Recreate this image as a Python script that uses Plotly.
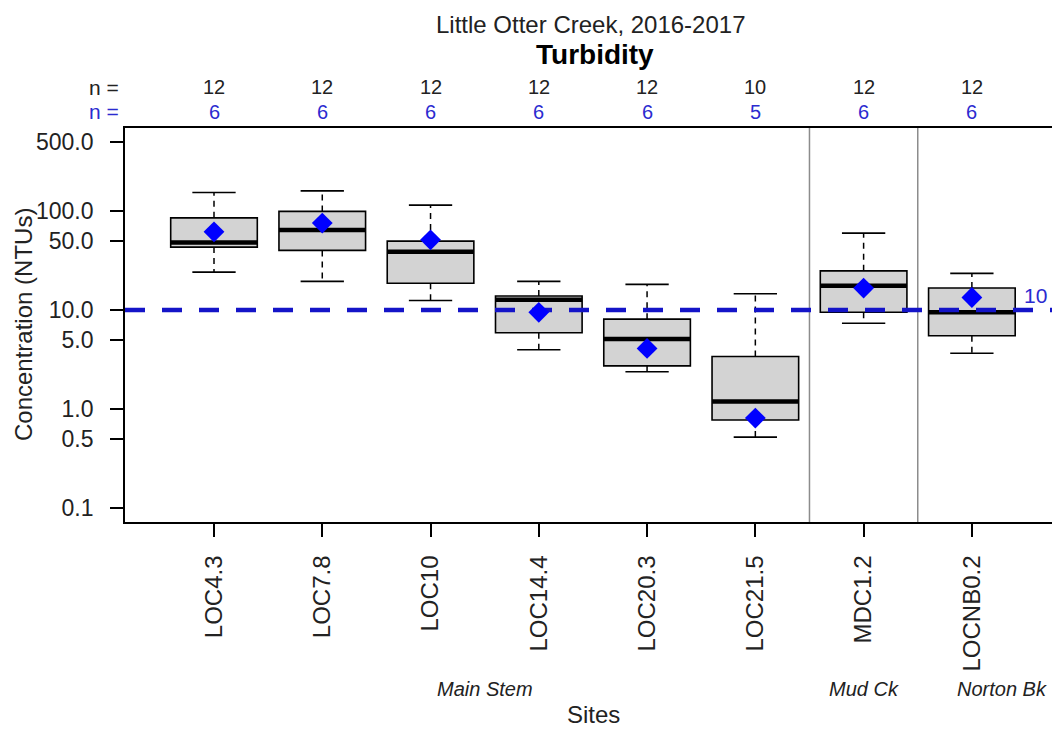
import plotly.graph_objects as go


# -------------------------------------------------
# Data
# -------------------------------------------------

sites = ["LOC4.3", "LOC7.8", "LOC10", "LOC14.4", "LOC20.3", "LOC21.5", "MDC1.2", "LOCNB0.2"]
n_total = [12, 12, 12, 12, 12, 10, 12, 12]
n_sub = [6, 6, 6, 6, 6, 5, 6, 6]

upper = [154, 160, 115, 19.5, 18.2, 14.6, 60, 23.5]
q3 = [85.5, 99.3, 49.8, 13.9, 8.1, 3.4, 24.9, 16.7]
median = [48.3, 64.3, 38.8, 12.7, 5.1, 1.19, 17.6, 9.5]
q1 = [43.3, 40.1, 18.7, 5.9, 2.73, 0.774, 9.5, 5.5]
lower = [24.2, 19.5, 12.5, 3.97, 2.38, 0.52, 7.35, 3.66]
means = [61.8, 75.7, 51.3, 9.5, 4.1, 0.81, 16.7, 13.4]

groups = ["Main Stem", "Mud Ck", "Norton Bk"]
group_sizes = [6, 1, 1]

threshold = 10

y_ticks = [500, 100, 50, 10, 5, 1, 0.5, 0.1]
y_tick_text = ["500.0", "100.0", "50.0", "10.0", "5.0", "1.0", "0.5", "0.1"]


# -------------------------------------------------
# Settings
# -------------------------------------------------

FONT = "Liberation Sans, Arial, sans-serif"
BLUE = "#0000FF"
LINE_BLUE = "#1414C8"
TEXT_BLUE = "#2b2bd0"
X_RANGE = [0.178, 8.74]
BOX_W = 0.8
CAP_W = 0.4

pos = list(range(1, len(sites) + 1))


def segments(xs0, xs1, ys0, ys1):
    xs, ys = [], []
    for a, b, c, d in zip(xs0, xs1, ys0, ys1):
        xs += [a, b, None]
        ys += [c, d, None]
    return xs, ys


def label(text, x, y, size, color="#222", xref="paper", yref="paper", **kw):
    d = dict(x=x, y=y, xref=xref, yref=yref, text=text, showarrow=False,
             xanchor="center", yanchor="middle", font=dict(size=size, color=color))
    d.update(kw)
    return d


fig = go.Figure()

# boxes (whiskers drawn separately so they can be dashed)
fig.add_trace(go.Box(
    x=pos, q1=q1, median=median, q3=q3,
    lowerfence=q1, upperfence=q3,
    width=BOX_W, whiskerwidth=0,
    fillcolor="#D3D3D3",
    line=dict(color="black", width=1.6),
    boxpoints=False, showlegend=False, hoverinfo="skip",
))

# thick medians
mx, my = segments([p - BOX_W / 2 for p in pos], [p + BOX_W / 2 for p in pos], median, median)
fig.add_trace(go.Scatter(x=mx, y=my, mode="lines", line=dict(color="black", width=4.5),
                         showlegend=False, hoverinfo="skip"))

# dashed whiskers
wx1, wy1 = segments(pos, pos, q3, upper)
wx2, wy2 = segments(pos, pos, q1, lower)
fig.add_trace(go.Scatter(x=wx1 + wx2, y=wy1 + wy2, mode="lines",
                         line=dict(color="black", width=1.5, dash="6px,5px"),
                         showlegend=False, hoverinfo="skip"))

# whisker caps
cx1, cy1 = segments([p - CAP_W / 2 for p in pos], [p + CAP_W / 2 for p in pos], upper, upper)
cx2, cy2 = segments([p - CAP_W / 2 for p in pos], [p + CAP_W / 2 for p in pos], lower, lower)
fig.add_trace(go.Scatter(x=cx1 + cx2, y=cy1 + cy2, mode="lines",
                         line=dict(color="black", width=1.6),
                         showlegend=False, hoverinfo="skip"))

# threshold line
fig.add_trace(go.Scatter(x=X_RANGE, y=[threshold, threshold], mode="lines",
                         line=dict(color=LINE_BLUE, width=4.5, dash="20px,17px"),
                         showlegend=False, hoverinfo="skip"))

# means
fig.add_trace(go.Scatter(x=pos, y=means, mode="markers",
                         marker=dict(symbol="diamond", size=16, color=BLUE),
                         showlegend=False, hoverinfo="skip"))


# -------------------------------------------------
# Group separators and labels
# -------------------------------------------------

shapes = []
start = 0
group_pos = []
for size in group_sizes:
    group_pos.append(start + (size + 1) / 2)
    start += size
    if start < len(sites):
        shapes.append(dict(type="line", xref="x", yref="paper", x0=start + 0.5, x1=start + 0.5,
                           y0=0, y1=1, line=dict(color="#8c8c8c", width=1.5), layer="below"))

group_pos[-1] += 0.28  # last label sits a little to the right in the original

annotations = []
for g, gx in zip(groups, group_pos):
    annotations.append(label(f"<i>{g}</i>", gx, -0.424, 20, xref="x"))

# n = rows
annotations.append(label("n =", -0.004, 1.104, 21, xanchor="right"))
annotations.append(label("n =", -0.004, 1.041, 21, color=TEXT_BLUE, xanchor="right"))
for p, a, b in zip(pos, n_total, n_sub):
    annotations.append(label(str(a), p, 1.104, 20, xref="x"))
    annotations.append(label(str(b), p, 1.041, 20, color=TEXT_BLUE, xref="x"))

# titles
annotations.append(label("Little Otter Creek, 2016-2017", 0.503, 1.262, 24))
annotations.append(label("<b>Turbidity</b>", 0.507, 1.186, 28, color="black"))

# axis titles
annotations.append(label("Concentration (NTUs)", -0.11, 0.5, 24, textangle=-90))
annotations.append(label("Sites", 0.505, -0.488, 24))

# threshold label
annotations.append(label(str(threshold), 0.968, 1, 21, color=TEXT_BLUE, yref="y",
                         xanchor="left", yshift=15))


fig.update_layout(
    width=1052,
    height=729,
    margin=dict(l=125, r=0, t=128, b=207),
    paper_bgcolor="white",
    plot_bgcolor="white",
    font=dict(family=FONT, color="#222"),
    shapes=shapes,
    annotations=annotations,
    showlegend=False,
)

fig.update_xaxes(
    range=X_RANGE,
    tickvals=pos,
    ticktext=sites,
    tickangle=-90,
    tickfont=dict(size=24, color="#222"),
    ticks="outside", ticklen=13, tickwidth=1.5, tickcolor="black",
    ticklabelstandoff=9,
    showgrid=False, zeroline=False,
    showline=True, linecolor="black", linewidth=1.8, mirror=True,
)

fig.update_yaxes(
    type="log",
    range=[-1.1416, 2.84],
    tickvals=y_ticks,
    ticktext=y_tick_text,
    tickfont=dict(size=23, color="#222"),
    ticks="outside", ticklen=13, tickwidth=1.5, tickcolor="black",
    ticklabelstandoff=12,
    showgrid=False, zeroline=False,
    showline=True, linecolor="black", linewidth=1.8,
)

# page body has a default margin; drop it so the figure sits at the window corner
fig.write_html("out.html", config={"displayModeBar": False},
               post_script="document.body.style.margin='0px';")
